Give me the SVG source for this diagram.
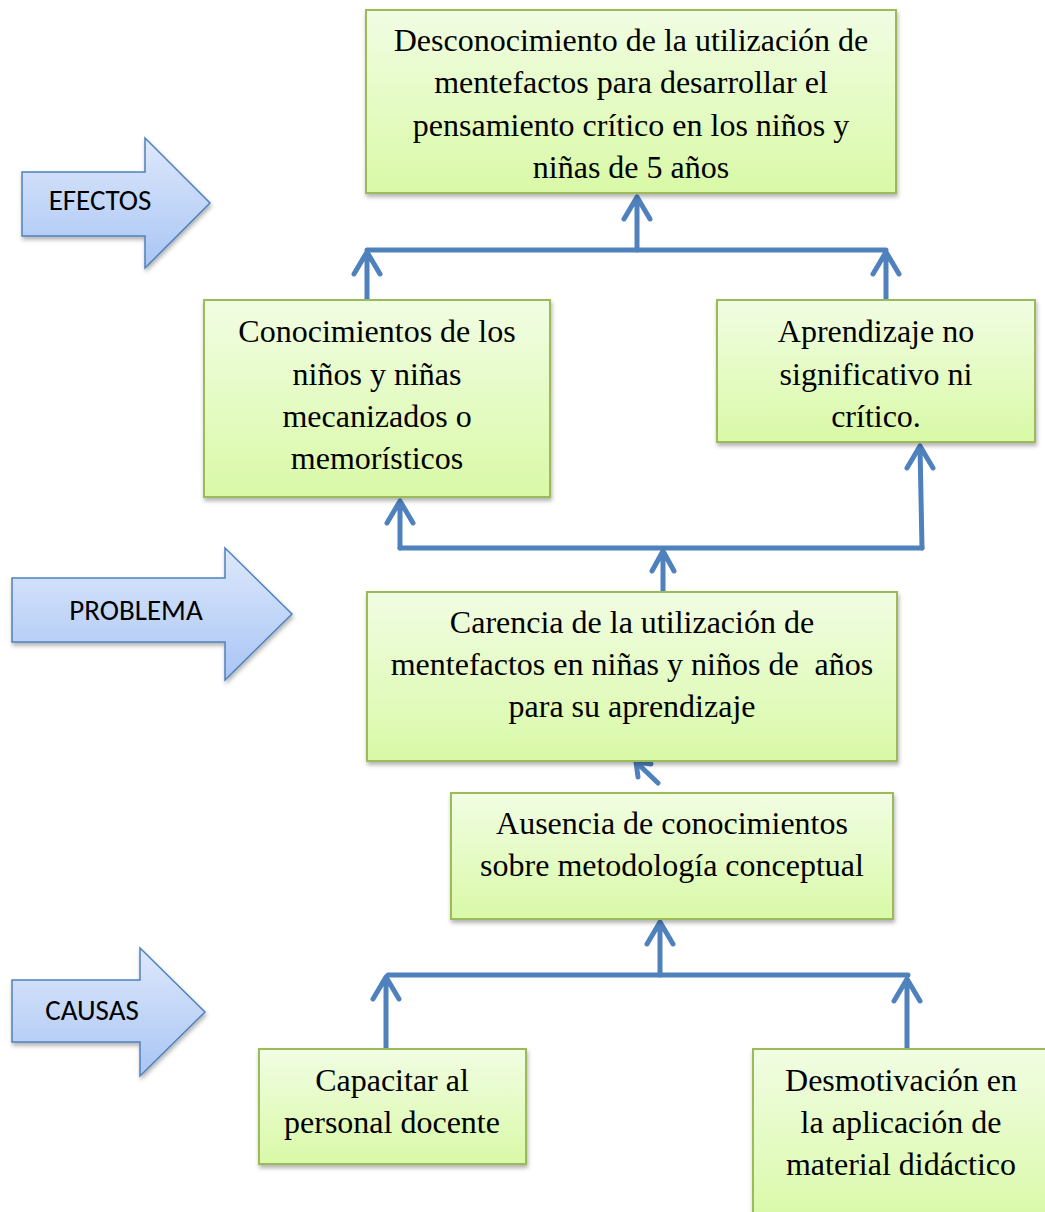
<svg xmlns="http://www.w3.org/2000/svg" width="1045" height="1212" viewBox="0 0 1045 1212">
<style>
.box{fill:url(#g);stroke:#9bbb59;stroke-width:2;filter:url(#sh)}
.t{font-family:"Liberation Serif","Times New Roman",serif;font-size:32px;fill:#000;text-anchor:middle}
.lab{font-family:"Carlito","Liberation Sans",Arial,sans-serif;font-size:29px;fill:#000;text-anchor:middle}
.ba{fill:url(#gb);stroke:#4f81bd;stroke-width:1.5;filter:url(#sh)}
.c{fill:none;stroke:#4f81bd;stroke-width:5;stroke-linecap:round;stroke-linejoin:round}
</style>
<defs>
<linearGradient id="g" x1="0" y1="0" x2="0" y2="1"><stop offset="0" stop-color="#f1fde3"/><stop offset="1" stop-color="#d9f9a7"/></linearGradient>
<linearGradient id="gb" x1="0" y1="0" x2="0" y2="1"><stop offset="0" stop-color="#dde8fb"/><stop offset="1" stop-color="#a9c5f5"/></linearGradient>
<filter id="sh" x="-10%" y="-10%" width="120%" height="125%"><feDropShadow dx="1" dy="3" stdDeviation="2" flood-color="#000" flood-opacity="0.3"/></filter>
</defs>
<g id="arrow-efectos"><path class="ba" d="M22,172 H145 V138 L210,203 L145,268 V236 H22 Z"/><text class="lab" x="100" y="210">EFECTOS</text></g>
<g id="arrow-problema"><path class="ba" d="M12,578 H225 V548 L292,614 L225,680 V642 H12 Z"/><text class="lab" x="136" y="620">PROBLEMA</text></g>
<g id="arrow-causas"><path class="ba" d="M12,980 H140 V948 L205,1012 L140,1076 V1042 H12 Z"/><text class="lab" x="92" y="1020">CAUSAS</text></g>
<g id="connectors">
<path class="c" d="M637,250 V197 M624,219 L637,197 L650,219"/>
<path class="c" d="M367,250 H886"/>
<path class="c" d="M367,300 V252 M354,274 L367,252 L380,274"/>
<path class="c" d="M886,300 V252 M873,274 L886,252 L899,274"/>
<path class="c" d="M400,548 H922"/>
<path class="c" d="M400,548 V501 M387,523 L400,501 L413,523"/>
<path class="c" d="M922,548 L920,446 M907,468 L920,446 L933,468"/>
<path class="c" d="M663,590 V551 M652,571 L663,551 L674,571"/>
<path class="c" d="M658,783 L636,762 M638,777 L636,762 L651,764"/>
<path class="c" d="M660,975 V922 M647,944 L660,922 L673,944"/>
<path class="c" d="M388,975 H908"/>
<path class="c" d="M386,1048 V977 M373,999 L386,977 L399,999"/>
<path class="c" d="M907,1048 V979 M894,1001 L907,979 L920,1001"/>
</g>
<g id="n-top"><rect class="box" x="366" y="10" width="530" height="183"/>
<text class="t" x="631" y="51">Desconocimiento de la utilización de</text>
<text class="t" x="631" y="93">mentefactos para desarrollar el</text>
<text class="t" x="631" y="136">pensamiento crítico en los niños y</text>
<text class="t" x="631" y="178">niñas de 5 años</text></g>
<g id="n-conocimientos"><rect class="box" x="204" y="300" width="346" height="197"/>
<text class="t" x="377" y="342">Conocimientos de los</text>
<text class="t" x="377" y="385">niños y niñas</text>
<text class="t" x="377" y="427">mecanizados o</text>
<text class="t" x="377" y="469">memorísticos</text></g>
<g id="n-aprendizaje"><rect class="box" x="717" y="300" width="318" height="142"/>
<text class="t" x="876" y="342">Aprendizaje no</text>
<text class="t" x="876" y="385">significativo ni</text>
<text class="t" x="876" y="427">crítico.</text></g>
<g id="n-carencia"><rect class="box" x="367" y="592" width="530" height="169"/>
<text class="t" x="632" y="633">Carencia de la utilización de</text>
<text class="t" x="632" y="675" xml:space="preserve">mentefactos en niñas y niños de  años</text>
<text class="t" x="632" y="717">para su aprendizaje</text></g>
<g id="n-ausencia"><rect class="box" x="451" y="793" width="442" height="126"/>
<text class="t" x="672" y="834">Ausencia de conocimientos</text>
<text class="t" x="672" y="876">sobre metodología conceptual</text></g>
<g id="n-capacitar"><rect class="box" x="259" y="1049" width="267" height="115"/>
<text class="t" x="392" y="1091">Capacitar al</text>
<text class="t" x="392" y="1133">personal docente</text></g>
<g id="n-desmotivacion"><rect class="box" x="753" y="1049" width="300" height="175"/>
<text class="t" x="901" y="1091">Desmotivación en</text>
<text class="t" x="901" y="1133">la aplicación de</text>
<text class="t" x="901" y="1175">material didáctico</text></g>
</svg>
